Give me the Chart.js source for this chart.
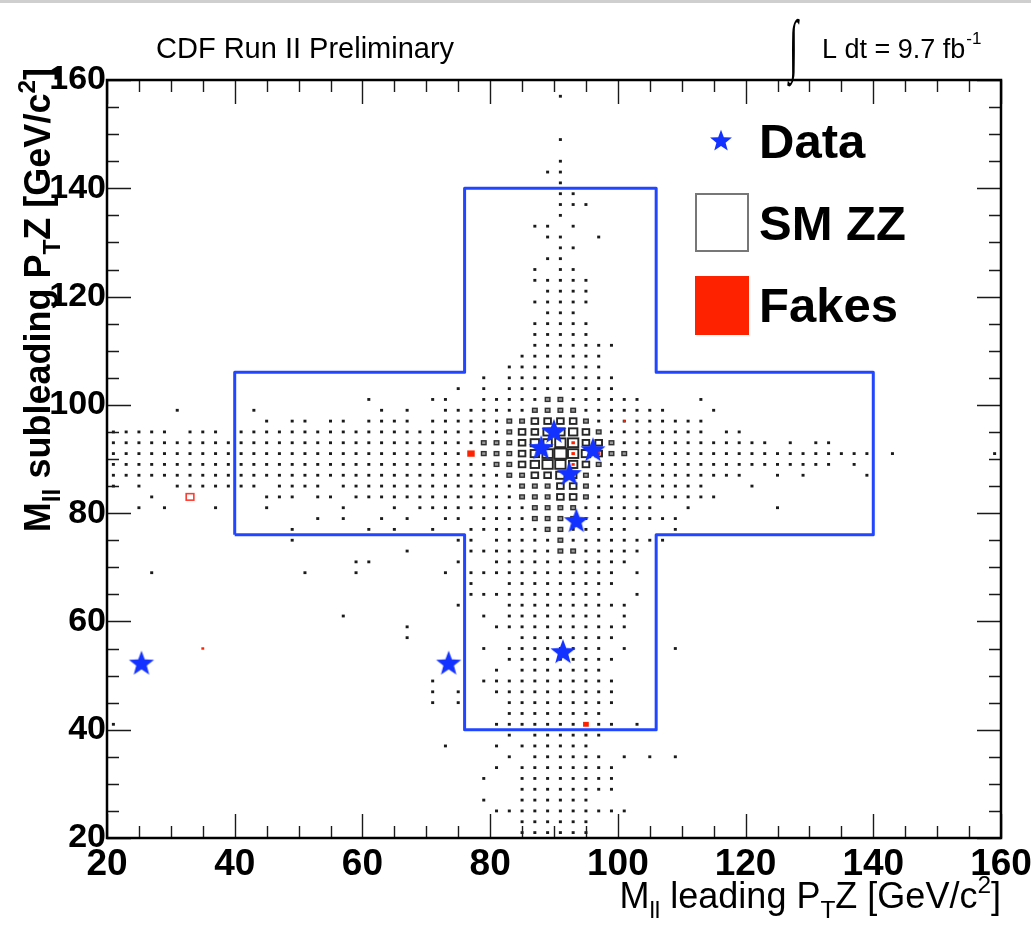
<!DOCTYPE html>
<html>
<head>
<meta charset="utf-8">
<script src="https://cdn.jsdelivr.net/npm/chart.js@4.4.1/dist/chart.umd.min.js"></script>
<style>
html,body{margin:0;padding:0;background:#fff;}
#wrap{position:relative;width:1031px;height:930px;}
canvas{display:block;}
</style>
</head>
<body>
<div id="wrap"><canvas id="c" width="1031" height="930"></canvas></div>
<script>
// ---------------- data ----------------
const xRange = [20, 160];
const yRange = [20, 160];
const majorStep = 20;
const minorStep = 5;
const binWidth = 2; // GeV/c^2 per 2D bin

// SM ZZ 2D histogram: occupied bins per row (y centre -> x centres, ranges step 2)
const zzRows = [
  [157,"91"],[149,"91"],[145,"91"],[143,"89-91"],[141,"91"],[139,"91-93"],
  [137,"91-95"],[135,"91"],[133,"87-89 93"],[131,"89-91 97"],[129,"91-93"],
  [127,"89-91"],[125,"87 91-93"],[123,"87-95"],[121,"89-95"],[119,"87-95"],
  [117,"89-93"],[115,"87-95"],[113,"87-95"],[111,"87-99"],[109,"85-97"],
  [107,"83-97"],[105,"79 83-99"],[103,"75 79 83-99"],
  [101,"61 71-73 79-103 113"],[99,"31 43 63 67 73-107 115"],
  [97,"45 49-51 55-57 61-67 71-113"],[95,"21-29 33-37 41-113 117-119"],
  [93,"21-123 127 131-133"],[91,"21-139 143 159"],[89,"21-133 137"],
  [87,"21-119 125 129 139"],[85,"21 25 31-43 47-53 57-113 121"],
  [83,"27 45-49 53-55 59-115"],[81,"25 29 37 45 57 65 69-105 111 125"],
  [79,"53 57 63 67 73-75 79-109"],[77,"49 61 65 71 77-101 109"],
  [75,"49 75-77 81-107"],[73,"67 77-103"],[71,"59-61 75 81-101"],
  [69,"27 51 59 73 77-99 103"],[67,"77 83-99"],[65,"77-97 103"],
  [63,"75 83-101"],[61,"57 79 83-97 101"],[59,"67 81-101"],[57,"67 85-99"],
  [55,"79 83-97 101 109"],[53,"83-99"],[51,"81 85-97"],[49,"71 79-99"],
  [47,"71 75 81-99"],[45,"71 75 83-99"],[43,"83-97"],[41,"21 81-93 97-99 103"],
  [39,"83 87-97"],[37,"73 81 85-95"],[35,"83 87-97 101 105 109"],
  [33,"81 85-99"],[31,"79 85-99"],[29,"85-99"],[27,"79 85-95"],
  [25,"81-101"],[23,"85-95"],[21,"85-95"]
];
// relative content level of the fuller bins (all others are level 1)
const zzLevels = [
  [101,"89-91:2"],[99,"87-93:2"],[97,"83-85:2 87-93:3 95:2"],
  [95,"83:2 85-87:3 89-93:4 95:3 97:2"],
  [93,"79-83:2 85:3 87-89:4 91-93:5 95-97:3 99:2"],
  [91,"79-83:2 85:3 87:4 89:5 91:6 93:5 95:4 97:3 99-101:2"],
  [89,"81-83:2 85:3 87:4 89-91:5 93:4 95:3 97:2"],
  [87,"83-85:2 87-89:3 91:4 93:3 95:2"],
  [85,"85-89:2 91-93:3 95:2"],[83,"85-89:2 91-93:3 95:2"],
  [81,"87-93:2"],[79,"87-93:2"],[77,"89-91:2"],[75,"91:2"],[73,"91-93:2"]
];

// Fakes (weights; negative weight drawn as open box)
const fakeX = [77, 33, 95, 35, 101, 93, 93, 93, 97, 93];
const fakeY = [91, 83, 41, 55, 97, 93, 91, 89, 91, 87];
const fakeW = [0.34, -0.36, 0.2, 0.05, 0.022, 0.075, 0.075, 0.06, 0.075, 0.03];

// Data candidates
const dataX = [25.4, 73.5, 91.4, 93.5, 92.4, 96.1, 88.0, 90.0];
const dataY = [52.4, 52.4, 54.5, 78.7, 87.4, 91.8, 92.2, 95.2];

// signal-region outline (cross)
const regionX = [40, 40, 76, 76, 106, 106, 140, 140, 106, 106, 76, 76, 40];
const regionY = [76, 106, 106, 140, 140, 106, 106, 76, 76, 40, 40, 76, 76];

const legendLabels = ["Data", "SM ZZ", "Fakes"];
const headerLeft = "CDF Run II Preliminary";
const lumiText = "L dt = 9.7 fb";
const lumiSup = "-1";

// ---------------- helpers ----------------
function expand(spec){
  const out = [];
  spec.split(' ').forEach(tok => {
    const p = tok.split('-').map(Number);
    const end = p.length > 1 ? p[1] : p[0];
    for (let u = p[0]; u <= end; u += binWidth) out.push(u);
  });
  return out;
}
const levelMap = {};
zzLevels.forEach(([v, spec]) => {
  spec.split(' ').forEach(tok => {
    const [r, l] = tok.split(':');
    expand(r).forEach(u => { levelMap[u + ',' + v] = Number(l); });
  });
});
const zzBins = [];
zzRows.forEach(([v, spec]) => {
  expand(spec).forEach(u => zzBins.push({x: u, y: v, c: levelMap[u + ',' + v] || 1}));
});
const levelFrac = [0, 0.23, 0.36, 0.52, 0.66, 0.81, 0.94];

const BLUE_STAR = '#1432ff';
const BLUE_LINE = '#2146ff';
const RED = '#ff2200';

function starPath(ctx, cx, cy, R){
  const r = R * 0.42;
  ctx.beginPath();
  for (let i = 0; i < 10; i++){
    const rad = (i % 2 === 0) ? R : r;
    const a = -Math.PI / 2 + i * Math.PI / 5;
    const px = cx + rad * Math.cos(a), py = cy + rad * Math.sin(a);
    if (i === 0) ctx.moveTo(px, py); else ctx.lineTo(px, py);
  }
  ctx.closePath();
}
function makeStar(size, R){
  const cv = document.createElement('canvas');
  cv.width = size; cv.height = size;
  const c = cv.getContext('2d');
  starPath(c, size / 2, size / 2 + R * 0.1, R);
  c.fillStyle = BLUE_STAR;
  c.fill();
  return cv;
}
const starImg = makeStar(30, 13.2);
const starLegend = makeStar(26, 11.5);

const FONT = 'Liberation Sans, Arial, Helvetica, sans-serif';

function richDraw(ctx, segs, x, y, base, weight, measureOnly){
  let cx = x;
  segs.forEach(s => {
    const sz = s.k ? base * 0.68 : base;
    ctx.font = `${weight} ${sz}px ${FONT}`;
    const dy = s.k === 'sub' ? base * 0.28 : (s.k === 'sup' ? -base * 0.42 : 0);
    if (!measureOnly) ctx.fillText(s.t, cx, y + dy);
    cx += ctx.measureText(s.t).width;
  });
  return cx - x;
}
const xTitle = [{t:'M'},{t:'ll',k:'sub'},{t:' leading P'},{t:'T',k:'sub'},{t:'Z [GeV/c'},{t:'2',k:'sup'},{t:']'}];
const yTitle = [{t:'M'},{t:'ll',k:'sub'},{t:' subleading P'},{t:'T',k:'sub'},{t:'Z [GeV/c'},{t:'2',k:'sup'},{t:']'}];

// ---------------- plugins ----------------
const histPlugin = {
  id: 'hist2d',
  beforeDatasetsDraw(chart){
    const {ctx, chartArea: a, scales: {x, y}} = chart;
    ctx.save();
    ctx.beginPath(); ctx.rect(a.left, a.top, a.right - a.left, a.bottom - a.top); ctx.clip();
    const half = binWidth / 2;
    zzBins.forEach(b => {
      const cx = x.getPixelForValue(b.x), cy = y.getPixelForValue(b.y);
      const bw = x.getPixelForValue(b.x + half) - x.getPixelForValue(b.x - half);
      const bh = y.getPixelForValue(b.y - half) - y.getPixelForValue(b.y + half);
      const f = levelFrac[b.c];
      const w = Math.max(bw * f, 3), h = Math.max(bh * f, 2.8);
      if (b.c === 1){
        ctx.fillStyle = '#1a1a1a';
        ctx.fillRect(cx - w / 2, cy - h / 2, w, h);
      } else if (b.c === 2){
        ctx.fillStyle = '#9a9a9a';
        ctx.fillRect(cx - w / 2, cy - h / 2, w, h);
        ctx.strokeStyle = '#303030'; ctx.lineWidth = 1.4;
        ctx.strokeRect(cx - w / 2, cy - h / 2, w, h);
      } else {
        ctx.fillStyle = '#fff';
        ctx.fillRect(cx - w / 2, cy - h / 2, w, h);
        ctx.strokeStyle = '#262626'; ctx.lineWidth = 1.9;
        ctx.strokeRect(cx - w / 2, cy - h / 2, w, h);
      }
    });
    fakeX.forEach((fx, i) => {
      const cx = x.getPixelForValue(fx), cy = y.getPixelForValue(fakeY[i]);
      const bw = x.getPixelForValue(fx + half) - x.getPixelForValue(fx - half);
      const bh = y.getPixelForValue(fakeY[i] - half) - y.getPixelForValue(fakeY[i] + half);
      const f = Math.sqrt(Math.abs(fakeW[i]));
      const w = Math.max(bw * f, 2), h = Math.max(bh * f, 2);
      if (fakeW[i] > 0){
        ctx.fillStyle = RED;
        ctx.fillRect(cx - w / 2, cy - h / 2, w, h);
      } else {
        ctx.strokeStyle = '#ff3b30'; ctx.lineWidth = 1.6;
        ctx.strokeRect(cx - w / 2, cy - h / 2, w, h);
      }
    });
    ctx.restore();
  }
};

const framePlugin = {
  id: 'frame',
  afterDraw(chart){
    const {ctx, chartArea: a, scales: {x, y}} = chart;
    ctx.save();
    // top light border of the picture
    ctx.fillStyle = '#cfcfcf';
    ctx.fillRect(0, 0, chart.width, 3);
    // ticks, inward on all four sides
    ctx.strokeStyle = '#1a1a1a'; ctx.lineWidth = 1.4;
    ctx.beginPath();
    for (let v = xRange[0]; v <= xRange[1]; v += minorStep){
      const px = Math.round(x.getPixelForValue(v)) + 0.5;
      const L = (v % majorStep === 0) ? 24 : 12;
      ctx.moveTo(px, a.bottom); ctx.lineTo(px, a.bottom - L);
      ctx.moveTo(px, a.top); ctx.lineTo(px, a.top + L);
    }
    for (let v = yRange[0]; v <= yRange[1]; v += minorStep){
      const py = Math.round(y.getPixelForValue(v)) + 0.5;
      const L = (v % majorStep === 0) ? 24 : 12;
      ctx.moveTo(a.left, py); ctx.lineTo(a.left + L, py);
      ctx.moveTo(a.right, py); ctx.lineTo(a.right - L, py);
    }
    ctx.stroke();
    ctx.strokeStyle = '#000'; ctx.lineWidth = 2.5;
    ctx.strokeRect(a.left, a.top, a.right - a.left, a.bottom - a.top);

    ctx.fillStyle = '#000';
    ctx.textBaseline = 'alphabetic';
    ctx.textAlign = 'left';
    // header
    ctx.font = `29px ${FONT}`;
    ctx.fillText(headerLeft, 156, 58);
    ctx.save();
    ctx.font = `300 60px 'DejaVu Sans'`;
    ctx.translate(789, 68);
    ctx.scale(0.55, 1.15);
    ctx.fillText('\u222B', 0, 0);
    ctx.restore();
    ctx.font = `27px ${FONT}`;
    ctx.fillText(lumiText, 822, 58);
    const lw = ctx.measureText(lumiText).width;
    ctx.font = `17px ${FONT}`;
    ctx.fillText(lumiSup, 822 + lw + 1, 44);

    // x-axis title (right aligned at frame end)
    const xw = richDraw(ctx, xTitle, 0, 0, 36, 'normal', true);
    richDraw(ctx, xTitle, a.right - xw, 908, 36, 'normal');
    // y-axis title (rotated, right aligned at top)
    const yw = richDraw(ctx, yTitle, 0, 0, 36, 'bold', true);
    ctx.save();
    ctx.translate(50, 68 + yw);
    ctx.rotate(-Math.PI / 2);
    richDraw(ctx, yTitle, 0, 0, 36, 'bold');
    ctx.restore();

    // legend
    ctx.drawImage(starLegend, 721 - 13, 140 - 13);
    ctx.strokeStyle = '#777'; ctx.lineWidth = 2;
    ctx.strokeRect(696, 194, 52, 57);
    ctx.fillStyle = RED;
    ctx.fillRect(695, 276, 54, 59);
    ctx.fillStyle = '#000';
    ctx.font = `bold 49px ${FONT}`;
    ctx.fillText(legendLabels[0], 759, 158);
    ctx.fillText(legendLabels[1], 759, 240);
    ctx.fillText(legendLabels[2], 759, 322);
    ctx.restore();
  }
};

// ---------------- chart ----------------
const ctx = document.getElementById('c').getContext('2d');
new Chart(ctx, {
  type: 'scatter',
  data: {
    datasets: [
      {
        label: legendLabels[0],
        data: dataX.map((v, i) => ({x: v, y: dataY[i]})),
        pointStyle: starImg,
        pointRadius: 12,
        showLine: false
      },
      {
        label: 'region',
        data: regionX.map((v, i) => ({x: v, y: regionY[i]})),
        showLine: true,
        borderColor: BLUE_LINE,
        borderWidth: 3,
        borderJoinStyle: 'round',
        pointRadius: 0,
        tension: 0,
        fill: false
      }
    ]
  },
  options: {
    responsive: false,
    animation: false,
    devicePixelRatio: 1,
    layout: {padding: {left: 0, right: 30, top: 80, bottom: 0}},
    plugins: {legend: {display: false}, tooltip: {enabled: false}, title: {display: false}},
    scales: {
      x: {
        type: 'linear', min: xRange[0], max: xRange[1],
        ticks: {stepSize: majorStep, color: '#000', padding: 5, maxRotation: 0, autoSkip: false,
                font: {family: FONT, size: 37, weight: 'bold'}},
        grid: {display: false, drawTicks: false},
        border: {display: false},
        afterFit(s){ s.height = 92; s.paddingLeft = 0; s.paddingRight = 0; }
      },
      y: {
        type: 'linear', min: yRange[0], max: yRange[1],
        ticks: {stepSize: majorStep, color: '#000', padding: 1, autoSkip: false,
                font: {family: FONT, size: 34, weight: 'bold'}},
        grid: {display: false, drawTicks: false},
        border: {display: false},
        afterFit(s){ s.width = 107; s.paddingTop = 0; s.paddingBottom = 0; }
      }
    }
  },
  plugins: [histPlugin, framePlugin]
});
</script>
</body>
</html>
